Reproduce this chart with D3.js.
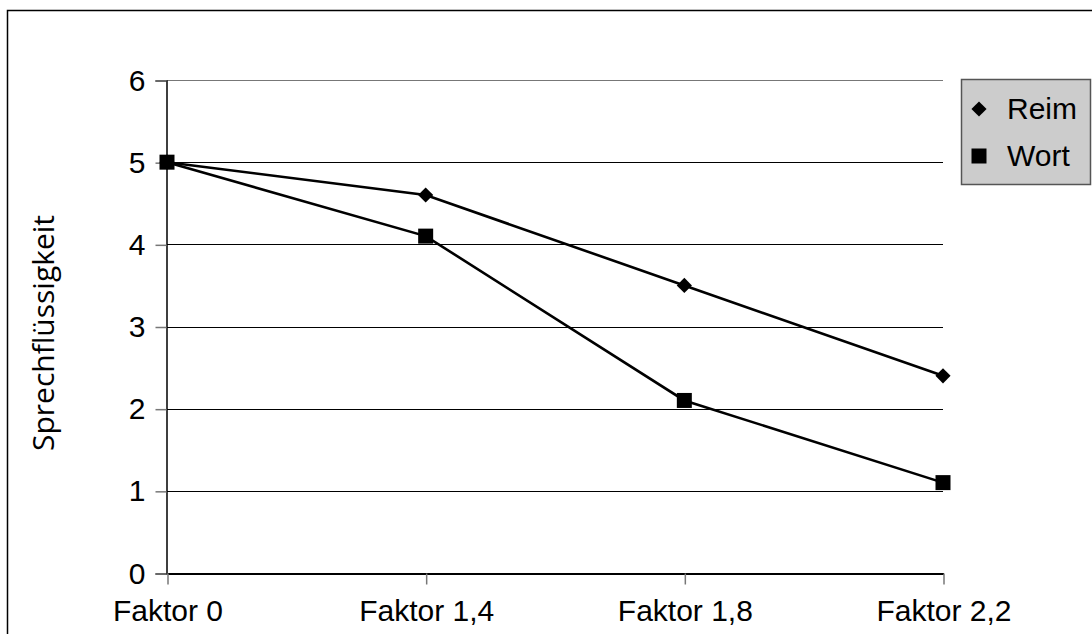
<!DOCTYPE html>
<html>
<head>
  <meta charset="utf-8">
  <title>Sprechflüssigkeit</title>
  <script src="https://d3js.org/d3.v7.min.js"></script>
  <style>
    body { margin: 0; background: #fff; }
    text { font-family: "Liberation Sans", Arial, sans-serif; fill: #000; }
  </style>
</head>
<body>
  <script>
    // Daten
    var categories = ['Faktor 0', 'Faktor 1,4', 'Faktor 1,8', 'Faktor 2,2'];
    var reim = [5, 4.6, 3.5, 2.4];
    var wort = [5, 4.1, 2.1, 1.1];
    var yTicks = [0, 1, 2, 3, 4, 5, 6];
    var seriesNames = ['Reim', 'Wort'];

    var width = 1092, height = 634;
    var fontSize = 30;
    var svg = d3.select('body').append('svg')
      .attr('width', width)
      .attr('height', height);

    // Rahmen (rechts und unten abgeschnitten)
    svg.append('rect')
      .attr('x', 7.5).attr('y', 10.5)
      .attr('width', 1200).attr('height', 700)
      .attr('fill', 'none').attr('stroke', '#000').attr('stroke-width', 1.5);

    var x = d3.scalePoint().domain(categories).range([167, 943]);
    var y = d3.scaleLinear().domain([0, 6]).range([573, 80]);

    // Gitterlinien
    svg.append('g').selectAll('line')
      .data(yTicks.filter(d => d > 0))
      .enter().append('line')
      .attr('x1', 167).attr('x2', 943)
      .attr('y1', d => Math.round(y(d)) + 0.5)
      .attr('y2', d => Math.round(y(d)) + 0.5)
      .attr('stroke', d => d === 6 ? '#777' : '#000').attr('stroke-width', 1.2);

    // y-Achse
    var yAxis = svg.append('g')
      .attr('transform', 'translate(166.5,0.5)')
      .call(d3.axisLeft(y).tickValues(yTicks).tickSize(11).tickPadding(10).tickFormat(d => d));
    yAxis.select('.domain').attr('stroke', '#000').attr('stroke-width', 1.5);
    yAxis.selectAll('.tick line').attr('stroke', '#777').attr('stroke-width', 1.5);
    yAxis.selectAll('.tick text').attr('font-size', fontSize).attr('font-family', '"Liberation Sans", Arial, sans-serif').attr('fill', '#000');

    // x-Achse
    var xAxis = svg.append('g')
      .attr('transform', 'translate(0.5,' + (Math.round(y(0)) + 0.5) + ')')
      .call(d3.axisBottom(x).tickSize(11).tickPadding(15).tickSizeOuter(0));
    xAxis.select('.domain').attr('stroke', '#000').attr('stroke-width', 2);
    xAxis.selectAll('.tick line').attr('stroke', '#777').attr('stroke-width', 1.5);
    xAxis.selectAll('.tick text').attr('font-size', fontSize).attr('font-family', '"Liberation Sans", Arial, sans-serif').attr('fill', '#000');

    // y-Achsentitel
    svg.append('text')
      .attr('transform', 'translate(54,333) rotate(-90)')
      .attr('text-anchor', 'middle')
      .style('font-family', '"Open Sans", sans-serif')
      .attr('font-size', 30)
      .text('Sprechflüssigkeit');

    // Linien
    var line = d3.line()
      .x((d, i) => x(categories[i]))
      .y(d => y(d));

    [reim, wort].forEach(function (vals) {
      svg.append('path')
        .datum(vals)
        .attr('d', line)
        .attr('fill', 'none')
        .attr('stroke', '#000')
        .attr('stroke-width', 2.6);
    });

    var diamond = d3.symbol().type(d3.symbolSquare).size(115);
    var square = d3.symbol().type(d3.symbolSquare).size(225);

    svg.append('g').selectAll('path')
      .data(reim).enter().append('path')
      .attr('d', diamond)
      .attr('transform', (d, i) => 'translate(' + x(categories[i]) + ',' + y(d) + ') rotate(45)')
      .attr('fill', '#000');

    svg.append('g').selectAll('path')
      .data(wort).enter().append('path')
      .attr('d', square)
      .attr('transform', (d, i) => 'translate(' + x(categories[i]) + ',' + y(d) + ')')
      .attr('fill', '#000');

    // Legende
    var legend = svg.append('g');
    legend.append('rect')
      .attr('x', 961.5).attr('y', 79.5)
      .attr('width', 129).attr('height', 105)
      .attr('fill', '#cccccc').attr('stroke', '#555').attr('stroke-width', 1.5);

    var items = legend.selectAll('g.item')
      .data(seriesNames).enter().append('g')
      .attr('transform', (d, i) => 'translate(0,' + (109 + i * 47) + ')');
    items.append('path')
      .attr('d', (d, i) => i === 0 ? diamond() : square())
      .attr('transform', (d, i) => i === 0 ? 'translate(979,0) rotate(45)' : 'translate(979,0)')
      .attr('fill', '#000');
    items.append('text')
      .attr('x', 1007).attr('y', 10)
      .attr('font-size', fontSize)
      .text(d => d);
  </script>
</body>
</html>
